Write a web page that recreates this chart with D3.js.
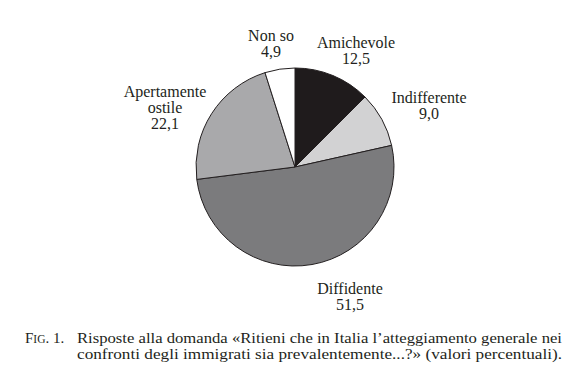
<!DOCTYPE html>
<html>
<head>
<meta charset="utf-8">
<script src="https://cdn.jsdelivr.net/npm/d3@7"></script>
<style>
  body { margin: 0; background: #fff; }
</style>
</head>
<body>
<svg></svg>
<script>
// data
let categories = ['Amichevole', 'Indifferente', 'Diffidente', 'Apertamente ostile', 'Non so']
let values = [12.5, 9.0, 51.5, 22.1, 4.9]
let labelLines = [['Amichevole'], ['Indifferente'], ['Diffidente'], ['Apertamente', 'ostile'], ['Non so']]
let fills = ['#1f1b1c', '#d2d2d3', '#7b7b7d', '#a9a9ab', '#ffffff']

// layout
let width = 583
let height = 387
let cx = 295
let cy = 167
let radius = 99
let serif = "'Liberation Serif'"
// label anchor (centre, baseline of top line) relative to pie centre
let labelAt = [[61, -119], [134, -64], [55, 127], [-130, -70], [-24, -126]]
let lineH = 16

let svg = d3.select('svg').attr('width', width).attr('height', height)

let pie = d3.pie().sort(null).value(d => d)
let arc = d3.arc().innerRadius(0).outerRadius(radius)

let g = svg.append('g').attr('transform', 'translate(' + cx + ',' + cy + ')')

g.selectAll('path')
  .data(pie(values))
  .enter()
  .append('path')
  .attr('d', arc)
  .attr('fill', (d, i) => fills[i])
  .attr('stroke', '#231f20')
  .attr('stroke-width', 1)

let fmt = v => v.toFixed(1).replace('.', ',')

let labels = g.selectAll('text.lbl')
  .data(categories)
  .enter()
  .append('text')
  .attr('class', 'lbl')
  .attr('text-anchor', 'middle')
  .style('font-family', serif)
  .attr('font-size', 16)
  .attr('fill', '#231f20')
  .attr('transform', (d, i) => 'translate(' + labelAt[i][0] + ',' + labelAt[i][1] + ')')

labels.each(function (d, i) {
  let t = d3.select(this)
  let lines = labelLines[i].concat([fmt(values[i])])
  lines.forEach((l, k) => {
    t.append('tspan').attr('x', 0).attr('y', k * lineH).style('font-family', serif).text(l)
  })
})

// caption
let capSize = 14
let cap = svg.append('g')
let c1 = cap.append('text').attr('x', 25).attr('y', 343)
  .style('font-family', serif).attr('font-size', 15).attr('fill', '#231f20')
c1.append('tspan').style('font-family', serif).text('F')
c1.append('tspan').style('font-family', serif).attr('font-size', 11.5).text('IG')
c1.append('tspan').style('font-family', serif).text('. 1.')
cap.append('text').attr('x', 77).attr('y', 343)
  .style('font-family', serif).attr('font-size', capSize).attr('fill', '#231f20')
  .attr('textLength', 485).attr('lengthAdjust', 'spacingAndGlyphs')
  .text('Risposte alla domanda «Ritieni che in Italia l’atteggiamento generale nei')
cap.append('text').attr('x', 77).attr('y', 359)
  .style('font-family', serif).attr('font-size', capSize).attr('fill', '#231f20')
  .attr('textLength', 485).attr('lengthAdjust', 'spacingAndGlyphs')
  .text('confronti degli immigrati sia prevalentemente...?» (valori percentuali).')
</script>
</body>
</html>
